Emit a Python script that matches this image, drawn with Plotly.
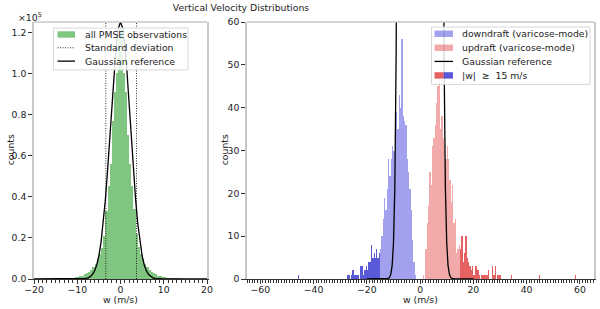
import plotly.graph_objects as go

# ---------------- data ----------------
# Left panel: all PMSE observations, 0.5 m/s bins (left bin edges)
ALL_W = [-20.0, -19.5, -19.0, -18.5, -18.0, -17.5, -17.0, -16.5, -16.0, -15.5,
         -15.0, -14.5, -14.0, -13.5, -13.0, -12.5, -12.0, -11.5, -11.0, -10.5,
         -10.0, -9.5, -9.0, -8.5, -8.0, -7.5, -7.0, -6.5, -6.0, -5.5,
         -5.0, -4.5, -4.0, -3.5, -3.0, -2.5, -2.0, -1.5, -1.0, -0.5,
         0.0, 0.5, 1.0, 1.5, 2.0, 2.5, 3.0, 3.5, 4.0, 4.5,
         5.0, 5.5, 6.0, 6.5, 7.0, 7.5, 8.0, 8.5, 9.0, 9.5,
         10.0, 10.5, 11.0, 11.5, 12.0, 12.5, 13.0, 13.5, 14.0, 14.5,
         15.0, 15.5, 16.0, 16.5, 17.0, 17.5, 18.0, 18.5, 19.0, 19.5]
ALL_N = [20, 25, 30, 40, 50, 60, 80, 100, 120, 145,
         170, 210, 250, 300, 350, 420, 500, 600, 700, 850,
         1000, 1300, 1700, 2200, 2800, 3600, 4600, 5800, 7500, 9500,
         12000, 15000, 21000, 33000, 45000, 56000, 77000, 91000, 100000, 122000,
         122000, 100000, 91000, 70000, 56000, 45000, 34000, 22000, 15500, 12000,
         9500, 7500, 5800, 4600, 3600, 2800, 2200, 1700, 1300, 1000,
         850, 700, 600, 500, 420, 350, 300, 250, 210, 170,
         145, 120, 100, 80, 60, 50, 40, 30, 25, 20]
STD_W = [-3.4, 3.7]

# Gaussian reference curve
GAUSS_W = [-20, -13, -12, -11.5, -11, -10.5, -10, -9.5, -9, -8.5, -8, -7.5, -7, -6.5, -6,
           -5.5, -5, -4.5, -4, -3.5, -3, -2.5, -2, -1.5, -1, -0.5, 0,
           0.5, 1, 1.5, 2, 2.5, 3, 3.5, 4, 4.5, 5, 5.5, 6, 6.5, 7, 7.5, 8, 8.5, 9, 9.5,
           10, 10.5, 11, 11.5, 12, 13, 20]
GAUSS_N = [0, 0.01, 0.12, 0.37, 1.1, 3.1, 8.3, 21, 52, 120, 265, 560, 1124, 2150, 3920,
           6820, 11300, 17840, 26850, 38500, 52600, 68500, 85100, 100700, 113500, 122000, 125000,
           122000, 113500, 100700, 85100, 68500, 52600, 38500, 26850, 17840, 11300, 6820, 3920,
           2150, 1124, 560, 265, 120, 52, 21, 8.3, 3.1, 1.1, 0.37, 0.12, 0.01, 0]

# Right panel: varicose-mode, 0.5 m/s bins (left bin edges)
DOWN_W = [-15.0, -14.5, -14.0, -13.5, -13.0, -12.5, -12.0, -11.5, -11.0, -10.5, -10.0,
          -9.5, -9.0, -8.5, -8.0, -7.5, -7.0, -6.5, -6.0, -5.5, -5.0, -4.5, -4.0, -3.5,
          -3.0, -2.5, -2.0]
DOWN_N = [7, 10, 14, 19, 16, 21, 28, 24, 28, 31, 30,
          33, 39, 35, 43, 40, 56, 38, 37, 36, 28, 25, 21, 16,
          9, 4, 1]
DOWN_STRONG_W = [-46.0, -27.5, -27.0, -26.0, -25.5, -25.0, -24.5, -24.0, -23.5, -22.5,
                 -22.0, -21.5, -21.0, -20.5, -20.0, -19.5, -19.0, -18.5, -18.0, -17.5,
                 -17.0, -16.5, -16.0, -15.5]
DOWN_STRONG_N = [1, 1, 1, 1, 2, 1, 1, 1, 1, 3,
                 3, 1, 2, 3, 2, 4, 4, 8, 5, 6,
                 5, 7, 5, 6]
UP_W = [1.0, 2.0, 2.5, 3.0, 3.5, 4.0, 4.5, 5.0, 5.5, 6.0, 6.5, 7.0, 7.5, 8.0, 8.5, 9.0,
        9.5, 10.0, 10.5, 11.0, 11.5, 12.0, 12.5, 13.0, 13.5, 14.0, 14.5]
UP_N = [1, 7, 13, 17, 25, 22, 31, 33, 36, 41, 45, 47, 35, 38, 33, 31,
        28, 31, 28, 23, 18, 22, 13, 14, 6, 7, 8]
UP_STRONG_W = [15.0, 15.5, 16.0, 16.5, 17.0, 17.5, 18.0, 18.5, 19.0, 19.5, 20.0, 20.5,
               21.0, 21.5, 22.0, 23.0, 23.5, 24.0, 24.5, 25.0, 25.5, 27.0, 27.5, 28.0,
               29.0, 29.5, 30.0, 34.0, 44.5, 58.0]
UP_STRONG_N = [7, 10, 4, 6, 10, 5, 4, 3, 2, 3, 1, 3,
               3, 2, 1, 1, 1, 1, 1, 1, 2, 3, 1, 3,
               1, 1, 1, 1, 1, 1]
BIN = 0.5

# ---------------- styling ----------------
FONT = "DejaVu Sans"
FS = 9.3
TXT = "#222"
W, H = 600, 309
ML, MR, MT, MB = 34, 6, 21.5, 30
PW, PH = W - ML - MR, H - MT - MB

C_ALL = "rgba(44,160,44,0.6)"
C_DOWN = "rgba(20,20,210,0.4)"
C_UP = "rgba(220,40,40,0.4)"
C_DOWN_S = "rgba(20,20,200,0.7)"
C_UP_S = "rgba(220,30,30,0.7)"
STD_DASH = "1px,1.5px"


def px(x):
    return (x - ML) / PW


def py(y):
    return 1 - (y - MT) / PH


fig = go.Figure()

fig.add_trace(go.Bar(x=[w + BIN / 2 for w in ALL_W], y=ALL_N, width=BIN,
                     marker=dict(color=C_ALL, line_width=0),
                     xaxis="x", yaxis="y", showlegend=False))
for w in STD_W:
    fig.add_trace(go.Scatter(x=[w, w], y=[0, 125000], mode="lines",
                             line=dict(color="black", width=0.8, dash=STD_DASH),
                             xaxis="x", yaxis="y", showlegend=False))
fig.add_trace(go.Scatter(x=GAUSS_W, y=GAUSS_N, mode="lines", line=dict(color="black", width=1.3),
                         xaxis="x", yaxis="y", showlegend=False))

fig.add_trace(go.Bar(x=[w + BIN / 2 for w in DOWN_W], y=DOWN_N, width=BIN,
                     marker=dict(color=C_DOWN, line_width=0), xaxis="x2", yaxis="y2", showlegend=False))
fig.add_trace(go.Bar(x=[w + BIN / 2 for w in UP_W], y=UP_N, width=BIN,
                     marker=dict(color=C_UP, line_width=0), xaxis="x2", yaxis="y2", showlegend=False))
fig.add_trace(go.Bar(x=[w + BIN / 2 for w in UP_STRONG_W], y=UP_STRONG_N, width=BIN,
                     marker=dict(color=C_UP_S, line_width=0), xaxis="x2", yaxis="y2", showlegend=False))
fig.add_trace(go.Bar(x=[w + BIN / 2 for w in DOWN_STRONG_W], y=DOWN_STRONG_N, width=BIN,
                     marker=dict(color=C_DOWN_S, line_width=0), xaxis="x2", yaxis="y2", showlegend=False))
fig.add_trace(go.Scatter(x=GAUSS_W, y=GAUSS_N, mode="lines", line=dict(color="black", width=1.3),
                         xaxis="x2", yaxis="y2", showlegend=False))

axis_common = dict(showgrid=False, zeroline=False, ticks="outside", ticklen=4, tickwidth=1,
                   tickcolor="#333", tickfont=dict(size=FS, color=TXT), automargin=False)
dom_l = [px(34), px(207)]
dom_r = [px(247), px(594)]

shapes = [
    dict(type="line", xref="x domain", yref="y domain", x0=0, x1=1, y0=1, y1=1,
         line=dict(color="#c8c8c8", width=1.5)),
    dict(type="line", xref="x2 domain", yref="y2 domain", x0=0, x1=1, y0=1, y1=1,
         line=dict(color="#c8c8c8", width=1.5)),
]
annotations = [
    dict(text="\u00d710<sup>5</sup>", x=px(16), y=py(16)),
    dict(text="counts", x=px(10), y=py(150), textangle=-90, xanchor="center"),
    dict(text="counts", x=px(224), y=py(150), textangle=-90, xanchor="center"),
    dict(text="w (m/s)", x=px(120.5), y=py(299.5), xanchor="center"),
    dict(text="w (m/s)", x=px(420.5), y=py(299.5), xanchor="center"),
]


def box(x0, y0, x1, y1):
    shapes.append(dict(type="rect", xref="paper", yref="paper", x0=px(x0), x1=px(x1), y0=py(y0), y1=py(y1),
                       fillcolor="rgba(255,255,255,0.85)", line=dict(color="#d8d8d8", width=1)))


def patch(x0, x1, yc, color):
    shapes.append(dict(type="rect", xref="paper", yref="paper", x0=px(x0), x1=px(x1),
                       y0=py(yc + 3.2), y1=py(yc - 3.2), fillcolor=color, line=dict(width=0)))


def lsample(x0, x1, yc, dash="solid", width=1.3):
    shapes.append(dict(type="line", xref="paper", yref="paper", x0=px(x0), x1=px(x1), y0=py(yc), y1=py(yc),
                       line=dict(color="black", width=width, dash=dash)))


def label(text, x, yc):
    annotations.append(dict(text=text, x=px(x), y=py(yc)))


# left legend
box(53.5, 27.5, 188, 69.5)
patch(57.5, 75, 34, C_ALL)
label("all PMSE observations", 82.5, 34)
lsample(57.5, 75, 47.3, dash=STD_DASH, width=0.8)
label("Standard deviation", 82.5, 47.3)
lsample(57.5, 75, 60.7)
label("Gaussian reference", 82.5, 60.7)

# right legend
box(431.5, 26.5, 590, 84)
patch(434.5, 453, 33.3, C_DOWN)
label("downdraft (varicose-mode)", 460, 33.3)
patch(434.5, 453, 47.3, C_UP)
label("updraft (varicose-mode)", 460, 47.3)
lsample(434.5, 453, 61)
label("Gaussian reference", 460, 61)
patch(434.5, 443.7, 75, C_UP_S)
patch(443.7, 453, 75, C_DOWN_S)
label("|w|  \u2265  15 m/s", 460, 75)

for a in annotations:
    a.setdefault("xref", "paper")
    a.setdefault("yref", "paper")
    a.setdefault("xanchor", "left")
    a.setdefault("yanchor", "middle")
    a["showarrow"] = False
    a["font"] = dict(size=FS, color=TXT, family=FONT)

fig.update_layout(
    width=W, height=H, margin=dict(l=ML, r=MR, t=MT, b=MB, autoexpand=False),
    paper_bgcolor="white", plot_bgcolor="white",
    font=dict(family=FONT, size=FS, color=TXT),
    barmode="overlay", bargap=0, showlegend=False,
    title=dict(text="Vertical Velocity Distributions", x=241 / W, xref="container", xanchor="center",
               y=1 - 8 / H, yref="container", yanchor="middle", font=dict(size=FS, color=TXT)),
    xaxis=dict(domain=dom_l, range=[-20, 20], tickvals=[-20, -10, 0, 10, 20],
               ticktext=["\u221220", "\u221210", "0", "10", "20"],
               showline=True, linecolor="#333", linewidth=1, ticklabelstandoff=-2,
               minor=dict(ticks="outside", dtick=1, ticklen=2.5, tickcolor="#333"),
               anchor="y", **axis_common),
    yaxis=dict(domain=[0, 1], range=[0, 125000],
               tickvals=[0, 20000, 40000, 60000, 80000, 100000, 120000],
               ticktext=["0.0", "0.2", "0.4", "0.6", "0.8", "1.0", "1.2"],
               showline=True, linecolor="#c8c8c8", linewidth=1.5, mirror=True,
               anchor="x", **axis_common),
    xaxis2=dict(domain=dom_r, range=[-65, 65.3],
                tickvals=[-60, -40, -20, 0, 20, 40, 60],
                ticktext=["\u221260", "\u221240", "\u221220", "0", "20", "40", "60"],
                showline=True, linecolor="#333", linewidth=1, ticklabelstandoff=-2,
                minor=dict(ticks="outside", dtick=1, ticklen=2.5, tickcolor="#333"),
                anchor="y2", **axis_common),
    yaxis2=dict(domain=[0, 1], range=[0, 60], tickvals=[0, 10, 20, 30, 40, 50, 60],
                showline=True, linecolor="#c8c8c8", linewidth=1.5, mirror=True,
                anchor="x2", **axis_common),
    shapes=shapes,
    annotations=annotations,
)

fig.write_html("out.html", config={"displayModeBar": False},
               post_script="document.body.style.margin='0px';document.body.style.overflow='hidden';")
